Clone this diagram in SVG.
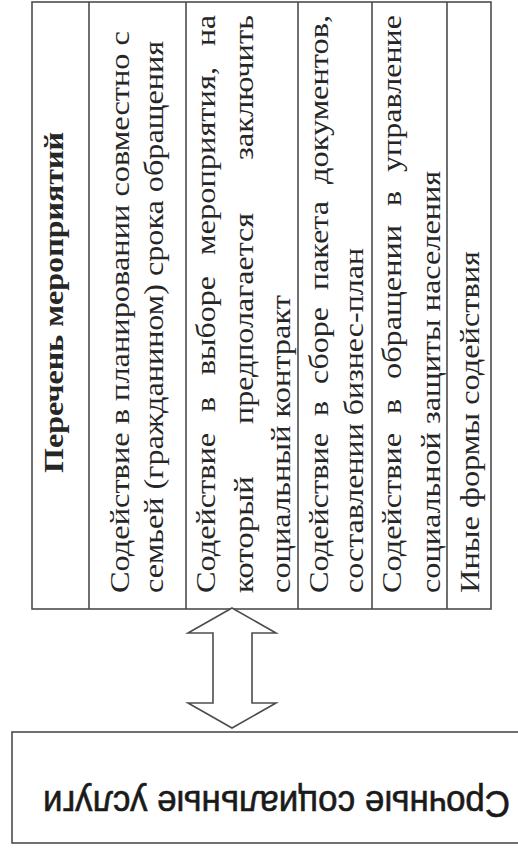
<svg xmlns="http://www.w3.org/2000/svg" width="518" height="852" viewBox="0 0 518 852">
<defs>
<style>
.frame{fill:none;stroke:#4d4d4d;stroke-width:1.6}
.arrow{fill:#fff;stroke:#4d4d4d;stroke-width:1.6;stroke-linejoin:miter}
</style>
</defs>
<rect width="518" height="852" fill="#fff"/>
<g id="measures">
  <rect class="frame" x="32" y="2" width="459" height="607"/>
  <path class="frame" d="M89 2V609M186 2V609M298 2V609M372 2V609M447 2V609"/>
  <g transform="translate(0,609) rotate(-90)" font-family="Liberation Serif" font-size="28" fill="#262626">
    <g id="header">
      <text x="136" y="63" font-weight="bold" textLength="341" lengthAdjust="spacingAndGlyphs">Перечень мероприятий</text>
    </g>
    <g id="item1">
      <text x="16" y="129" textLength="562" lengthAdjust="spacingAndGlyphs">Содействие в планировании совместно с</text>
      <text x="16" y="163" textLength="552" lengthAdjust="spacingAndGlyphs">семьей (гражданином) срока обращения</text>
    </g>
    <g id="item2">
      <text x="16" y="215" textLength="160" lengthAdjust="spacingAndGlyphs">Содействие</text>
      <text x="197" y="215" textLength="15" lengthAdjust="spacingAndGlyphs">в</text>
      <text x="234" y="215" textLength="99" lengthAdjust="spacingAndGlyphs">выборе</text>
      <text x="354" y="215" textLength="188" lengthAdjust="spacingAndGlyphs">мероприятия,</text>
      <text x="563" y="215" textLength="31" lengthAdjust="spacingAndGlyphs">на</text>
      <text x="16" y="253" textLength="117" lengthAdjust="spacingAndGlyphs">который</text>
      <text x="185" y="253" textLength="211" lengthAdjust="spacingAndGlyphs">предполагается</text>
      <text x="449" y="253" textLength="145" lengthAdjust="spacingAndGlyphs">заключить</text>
      <text x="16" y="290" textLength="298" lengthAdjust="spacingAndGlyphs">социальный контракт</text>
    </g>
    <g id="item3">
      <text x="16" y="328" textLength="160" lengthAdjust="spacingAndGlyphs">Содействие</text>
      <text x="193" y="328" textLength="15" lengthAdjust="spacingAndGlyphs">в</text>
      <text x="225" y="328" textLength="77" lengthAdjust="spacingAndGlyphs">сборе</text>
      <text x="319" y="328" textLength="89" lengthAdjust="spacingAndGlyphs">пакета</text>
      <text x="425" y="328" textLength="169" lengthAdjust="spacingAndGlyphs">документов,</text>
      <text x="16" y="363" textLength="345" lengthAdjust="spacingAndGlyphs">составлении бизнес-план</text>
    </g>
    <g id="item4">
      <text x="16" y="401" textLength="160" lengthAdjust="spacingAndGlyphs">Содействие</text>
      <text x="195" y="401" textLength="15" lengthAdjust="spacingAndGlyphs">в</text>
      <text x="230" y="401" textLength="154" lengthAdjust="spacingAndGlyphs">обращении</text>
      <text x="403" y="401" textLength="15" lengthAdjust="spacingAndGlyphs">в</text>
      <text x="437" y="401" textLength="157" lengthAdjust="spacingAndGlyphs">управление</text>
      <text x="16" y="440" textLength="422" lengthAdjust="spacingAndGlyphs">социальной защиты населения</text>
    </g>
    <g id="item5">
      <text x="16" y="479" textLength="342" lengthAdjust="spacingAndGlyphs">Иные формы содействия</text>
    </g>
  </g>
</g>
<g id="urgent-services">
  <rect class="frame" x="12" y="732" width="520" height="111"/>
  <text transform="translate(276.5,791) rotate(180)" font-family="Liberation Sans" font-size="37" fill="#1a1a1a" stroke="#1a1a1a" stroke-width="0.6" text-anchor="middle" textLength="467" lengthAdjust="spacingAndGlyphs">Срочные социальные услуги</text>
</g>
<g id="connectors">
  <polygon class="arrow" points="232,608 276,633 252,633 252,703 276,703 232,728 188,703 213,703 213,633 188,633"/>
</g>
</svg>
